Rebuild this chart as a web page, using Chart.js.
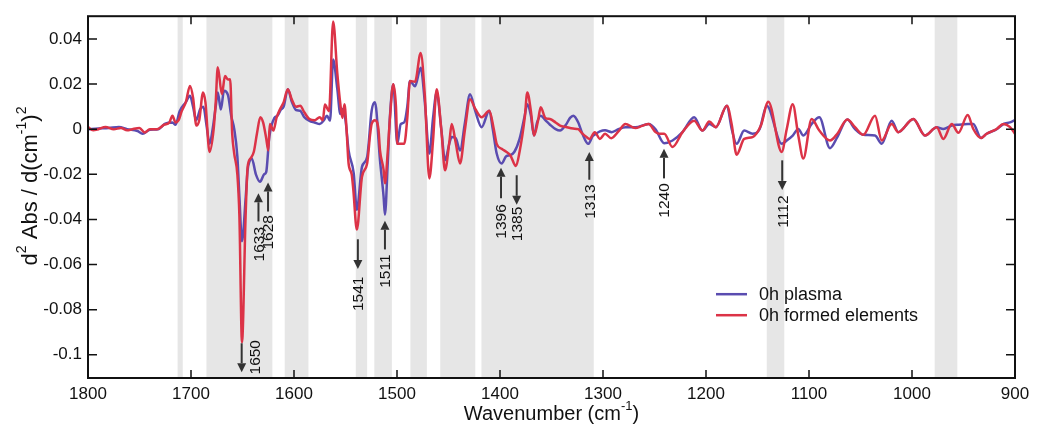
<!DOCTYPE html>
<html>
<head>
<meta charset="utf-8">
<script src="https://cdn.jsdelivr.net/npm/chart.js@4.4.0/dist/chart.umd.min.js"></script>
<style>
  html, body { margin: 0; padding: 0; background: #fff; }
  #wrap { width: 1043px; height: 427px; }
</style>
</head>
<body>
<div id="wrap"><canvas id="chart" width="1043" height="427"></canvas></div>
<script>
// wavenumber (cm-1) / second derivative values
const plasmaWn = [
  1800, 1790, 1780, 1770, 1762, 1752, 1747, 1740, 1732, 1725,
  1718, 1715, 1711, 1705, 1701, 1698, 1695, 1691, 1688, 1685,
  1682, 1679, 1676, 1674, 1671, 1668, 1664, 1661, 1658, 1655,
  1653, 1650.5, 1647, 1645, 1643, 1641, 1637, 1633, 1629, 1627,
  1624, 1619, 1616, 1613, 1610, 1606, 1602, 1598, 1594, 1590,
  1585, 1580, 1575, 1571, 1568, 1565, 1562, 1558, 1555, 1553,
  1550, 1547, 1542, 1539, 1534, 1529, 1524.6, 1521.4, 1516.5, 1513,
  1511.7, 1509, 1506.8, 1503.6, 1499.7, 1496.4, 1493, 1490, 1487.4, 1482.5,
  1477, 1473, 1468.6, 1465, 1461.5, 1457, 1453.4, 1449, 1447, 1443,
  1438.8, 1434, 1429.1, 1424, 1417.8, 1410.4, 1407, 1403.2, 1398.4, 1394,
  1390, 1386, 1381, 1376, 1373.5, 1370, 1367, 1364, 1360.5, 1356,
  1351.5, 1346, 1341.7, 1336, 1332, 1328.8, 1324, 1320, 1314.3, 1310,
  1307.8, 1303, 1298, 1291.5, 1285, 1278.3, 1268.6, 1255.7, 1249, 1240.6,
  1232.5, 1222.8, 1211.5, 1203.4, 1196.9, 1190.4, 1179.7, 1175, 1170.3, 1162.9,
  1154.8, 1148, 1141, 1126.5, 1121.6, 1115.8, 1110.4, 1105.5, 1097.4, 1090,
  1079.6, 1072.5, 1062.8, 1055.3, 1047.3, 1035.9, 1029.4, 1019.7, 1013.3, 998.7,
  987.4, 976, 969.6, 961.4, 955, 945.9, 940.5, 933, 927.5, 917.8,
  911.3, 904.8, 900
];
const plasmaVal = [
  0.000, 0.0003, 0.0005, 0.001, 0.000, -0.0008, -0.002, -0.0003, 0.000, 0.0025,
  0.003, 0.002, 0.008, 0.012, 0.0148, 0.010, 0.004, 0.009, 0.010, 0.002,
  -0.0065, 0.000, 0.010, 0.0163, 0.0087, 0.017, 0.015, 0.006, 0.000, -0.012,
  -0.030, -0.0497, -0.031, -0.018, -0.014, -0.013, -0.020, -0.0233, -0.020, -0.019,
  -0.0035, 0.005, 0.006, 0.0085, 0.010, 0.0177, 0.012, 0.0085, 0.0082, 0.0053,
  0.0037, 0.003, 0.0023, 0.004, 0.006, 0.0038, 0.0309, 0.018, 0.0067, 0.009,
  0.004, -0.0094, -0.0196, -0.0357, -0.0167, -0.0123, 0.0082, 0.0119, -0.0138, -0.030,
  -0.0379, -0.015, 0.006, 0.0199, -0.0065, 0.0023, 0.003, 0.010, 0.0214, 0.019,
  0.0273, 0.012, -0.0108, 0.005, 0.0163, 0.000, -0.0138, -0.006, -0.0035, -0.004,
  -0.0094, 0.003, 0.0155, 0.008, 0.0009, 0.0082, 0.000, -0.0108, -0.0152, -0.012,
  -0.0115, -0.010, -0.0043, 0.006, 0.0111, 0.006, -0.0028, 0.003, 0.006, 0.004,
  0.002, 0.000, -0.0006, 0.002, 0.005, 0.006, 0.003, -0.002, -0.0065, -0.003,
  -0.0023, -0.001, -0.0005, -0.0013, 0.000, 0.0009, 0.0009, 0.0023, 0.000, -0.0062,
  -0.005, -0.0013, 0.0053, -0.0006, 0.0023, 0.0009, 0.0104, 0.000, -0.0065, -0.0006,
  -0.002, 0.000, 0.0104, -0.0065, -0.005, -0.0028, 0.0001, -0.0028, 0.0023, 0.0053,
  -0.0084, -0.0035, 0.0043, 0.000, -0.0025, -0.0028, -0.0065, 0.0038, -0.0013, 0.0045,
  -0.0028, 0.0009, 0.0001, 0.0016, 0.002, 0.0023, 0.0023, -0.0039, -0.002, 0.000,
  0.0023, 0.003, 0.004
];
const formedWn = [
  1800, 1795, 1790, 1783, 1775, 1768, 1762, 1757, 1750, 1745,
  1740, 1733, 1726, 1721, 1718, 1715, 1712, 1709, 1705, 1701,
  1698, 1694.8, 1692, 1688.3, 1686, 1682, 1678, 1676, 1674, 1670,
  1667, 1664, 1662, 1660, 1658, 1655, 1653, 1650.5, 1647, 1645,
  1642, 1639, 1636, 1632.7, 1630, 1627, 1625, 1623.5, 1620, 1617,
  1613, 1610, 1606, 1602, 1598, 1594, 1590, 1585, 1580, 1575,
  1572, 1570, 1566, 1562, 1558, 1555, 1553, 1551, 1549, 1547,
  1544, 1542.4, 1539, 1534, 1529, 1526, 1524.6, 1521.4, 1518, 1516.5,
  1513, 1511.7, 1509, 1506.8, 1503.6, 1501, 1499.7, 1496.4, 1493, 1490,
  1487.4, 1482.5, 1477, 1473, 1468.6, 1465, 1461.5, 1457, 1453.4, 1449,
  1446.9, 1443, 1438.8, 1434, 1429.1, 1424, 1417.8, 1410.4, 1406, 1403.2,
  1398.4, 1394, 1390, 1384.5, 1381, 1376, 1373.5, 1370, 1367, 1363,
  1360.5, 1356, 1351.5, 1346, 1341.7, 1336, 1329, 1324, 1320, 1316,
  1313, 1308, 1303, 1298, 1292, 1285, 1278.3, 1268.6, 1262, 1255.7,
  1249, 1245, 1240.6, 1232.5, 1222.8, 1211.5, 1203.4, 1196.9, 1190.4, 1179.7,
  1175, 1170.3, 1162.9, 1154.8, 1146.7, 1139.5, 1126.5, 1121.6, 1115.8, 1110.4,
  1105.5, 1097.4, 1090, 1079.6, 1072.5, 1062.8, 1055.3, 1047.3, 1035.9, 1029.4,
  1019.7, 1013.3, 998.7, 987.4, 976, 969.6, 961.4, 955, 945.9, 940.5,
  933, 927.5, 917.8, 911.3, 904.8, 900
];
const formedVal = [
  0.001, -0.0005, 0.000, 0.001, 0.000, 0.0005, -0.0005, 0.000, 0.0005, -0.0015,
  0.000, 0.000, 0.002, 0.003, 0.006, 0.003, 0.004, 0.008, 0.012, 0.0192,
  0.014, 0.0016, 0.004, 0.0163, 0.012, -0.0101, 0.000, 0.012, 0.0275, 0.0155,
  0.0236, 0.022, 0.0221, -0.002, -0.0109, -0.020, -0.0387, -0.0944, -0.0387, -0.0167,
  -0.0128, -0.010, -0.002, 0.0053, 0.003, -0.004, -0.0094, 0.0023, -0.0006, 0.005,
  0.0094, 0.012, 0.0177, 0.013, 0.010, 0.0104, 0.0075, 0.0045, 0.004, 0.0053,
  0.004, 0.0109, 0.008, 0.0478, 0.025, 0.0111, 0.005, 0.0111, 0.000, -0.0152,
  -0.020, -0.0269, -0.0445, -0.0211, -0.0152, -0.002, 0.0023, 0.004, 0.000, -0.0094,
  -0.018, -0.024, -0.010, 0.0053, 0.0199, 0.010, -0.0065, -0.0065, -0.0065, 0.005,
  0.0214, 0.021, 0.0338, 0.015, -0.0218, -0.005, 0.0177, 0.000, -0.0182, -0.005,
  0.0023, -0.006, -0.0152, 0.000, 0.0133, 0.009, 0.0053, 0.0082, 0.000, -0.0065,
  -0.0087, -0.010, -0.0115, -0.0163, -0.010, 0.005, 0.0163, 0.008, -0.0028, 0.004,
  0.0097, 0.005, 0.0045, 0.003, 0.0016, 0.001, 0.0003, 0.000, -0.002, -0.0035,
  -0.0043, -0.0013, -0.0043, -0.002, -0.004, -0.001, 0.0023, 0.0005, 0.0015, 0.0023,
  -0.0013, -0.002, -0.002, -0.0079, -0.0013, 0.0038, -0.0006, 0.0034, 0.0009, 0.0104,
  0.002, -0.0113, -0.0043, -0.0035, 0.0016, 0.0122, -0.0101, 0.0001, 0.0111, -0.0028,
  -0.013, 0.0045, -0.0006, -0.005, -0.002, 0.0043, 0.0009, -0.0025, 0.006, -0.005,
  0.0023, -0.0013, 0.0045, -0.0028, 0.0009, -0.0043, 0.0023, -0.0016, 0.0063, 0.0001,
  -0.0039, -0.002, 0.0001, 0.0023, 0.0009, -0.002
];

// shaded regions (cm-1)
const bandStart = [1713, 1685, 1609, 1540, 1522, 1487, 1458, 1418, 1141, 978];
const bandEnd   = [1708, 1621, 1586, 1529, 1505, 1471, 1424, 1309, 1124, 956];

// marked peaks: label, arrow x, arrow tail/tip and label centre (data units)
const peakLabels = ['1650', '1633', '1628', '1541', '1511', '1396', '1385', '1313', '1240', '1112'];
const peakWn     = [1650.8, 1634.5, 1625.2, 1538, 1511.7, 1399, 1383.8, 1313.3, 1240.8, 1126];
const peakTail   = [-0.0949, -0.0409, -0.0365, -0.0488, -0.0533, -0.0306, -0.0204, -0.0224, -0.0218, -0.0138];
const peakTip    = [-0.1077, -0.0284, -0.0236, -0.062, -0.0406, -0.0171, -0.0335, -0.0101, -0.0087, -0.0269];
const peakTextY  = [-0.1011, -0.051, -0.0457, -0.073, -0.0629, -0.0409, -0.042, -0.0321, -0.0316, -0.0365];

const xTicks = [1800, 1700, 1600, 1500, 1400, 1300, 1200, 1100, 1000, 900];
const yTicks = [0.04, 0.02, 0, -0.02, -0.04, -0.06, -0.08, -0.1];
const yTickLabels = ['0.04', '0.02', '0', '-0.02', '-0.04', '-0.06', '-0.08', '-0.1'];

const seriesNames = ['0h plasma', '0h formed elements'];
const BLUE = '#5a4cb0';
const RED = '#dc3347';
const FONT = '"Liberation Sans", Arial, sans-serif';

const toPoints = (xs, ys) => xs.map((x, i) => ({ x, y: ys[i] }));

// rich text with superscripts, centred on (cx, cy)
const drawRich = (ctx, parts, cx, cy, size) => {
  const supSize = Math.round(size * 0.65);
  let w = 0;
  parts.forEach(p => {
    ctx.font = `${p.sup ? supSize : size}px ${FONT}`;
    w += ctx.measureText(p.t).width;
  });
  let x = cx - w / 2;
  ctx.textBaseline = 'middle';
  ctx.textAlign = 'left';
  parts.forEach(p => {
    ctx.font = `${p.sup ? supSize : size}px ${FONT}`;
    ctx.fillText(p.t, x, p.sup ? cy - size * 0.38 : cy);
    x += ctx.measureText(p.t).width;
  });
};

const decor = {
  id: 'decor',
  beforeDatasetsDraw(chart) {
    const { ctx, chartArea: a, scales: { x } } = chart;
    ctx.save();
    ctx.fillStyle = '#e6e6e6';
    bandStart.forEach((s, i) => {
      const x0 = x.getPixelForValue(s);
      const x1 = x.getPixelForValue(bandEnd[i]);
      ctx.fillRect(Math.min(x0, x1), a.top, Math.abs(x1 - x0), a.bottom - a.top);
    });
    ctx.restore();
  },
  afterDatasetsDraw(chart) {
    const { ctx, chartArea: a, scales: { x, y } } = chart;
    ctx.save();

    // arrows + rotated peak labels
    ctx.strokeStyle = '#333';
    ctx.fillStyle = '#333';
    ctx.lineWidth = 2;
    peakLabels.forEach((lab, i) => {
      const px = x.getPixelForValue(peakWn[i]);
      const yTail = y.getPixelForValue(peakTail[i]);
      const yTip = y.getPixelForValue(peakTip[i]);
      const dir = yTip > yTail ? 1 : -1;
      const head = 9;
      ctx.beginPath();
      ctx.moveTo(px, yTail);
      ctx.lineTo(px, yTip - dir * head);
      ctx.stroke();
      ctx.beginPath();
      ctx.moveTo(px, yTip);
      ctx.lineTo(px - 4.5, yTip - dir * head);
      ctx.lineTo(px + 4.5, yTip - dir * head);
      ctx.closePath();
      ctx.fill();

      const ty = y.getPixelForValue(peakTextY[i]);
      const tx = i === 0 ? px + 13 : px;
      ctx.save();
      ctx.translate(tx, ty);
      ctx.rotate(-Math.PI / 2);
      ctx.fillStyle = '#111';
      ctx.font = `15.5px ${FONT}`;
      ctx.textAlign = 'center';
      ctx.textBaseline = 'middle';
      ctx.fillText(lab, 0, 1);
      ctx.restore();
    });

    // frame
    ctx.strokeStyle = '#111';
    ctx.lineWidth = 2;
    ctx.strokeRect(a.left, a.top, a.right - a.left, a.bottom - a.top);

    // inward ticks on all four sides
    ctx.lineWidth = 1.5;
    ctx.beginPath();
    xTicks.forEach(v => {
      const px = x.getPixelForValue(v);
      ctx.moveTo(px, a.bottom); ctx.lineTo(px, a.bottom - 8);
      ctx.moveTo(px, a.top); ctx.lineTo(px, a.top + 8);
    });
    yTicks.forEach(v => {
      const py = y.getPixelForValue(v);
      ctx.moveTo(a.left, py); ctx.lineTo(a.left + 9, py);
      ctx.moveTo(a.right, py); ctx.lineTo(a.right - 9, py);
    });
    ctx.stroke();

    // legend
    const lx = a.left + 628;
    const ly = a.top + 278;
    [BLUE, RED].forEach((c, i) => {
      const yy = ly + i * 21;
      ctx.strokeStyle = c;
      ctx.lineWidth = 2.5;
      ctx.beginPath();
      ctx.moveTo(lx, yy); ctx.lineTo(lx + 31, yy);
      ctx.stroke();
      ctx.fillStyle = '#111';
      ctx.font = `18px ${FONT}`;
      ctx.textAlign = 'left';
      ctx.textBaseline = 'middle';
      ctx.fillText(seriesNames[i], lx + 43, yy + 1);
    });

    // axis titles
    ctx.fillStyle = '#111';
    drawRich(ctx, [{ t: 'Wavenumber (cm' }, { t: '-1', sup: true }, { t: ')' }],
      (a.left + a.right) / 2, 414, 20);
    ctx.save();
    ctx.translate(31, 186);
    ctx.rotate(-Math.PI / 2);
    drawRich(ctx, [{ t: 'd' }, { t: '2', sup: true }, { t: ' Abs / d(cm' }, { t: '-1', sup: true },
      { t: ')' }, { t: '2', sup: true }], 0, 0, 22);
    ctx.restore();

    ctx.restore();
  }
};

new Chart(document.getElementById('chart'), {
  type: 'line',
  data: {
    datasets: [
      {
        label: seriesNames[0],
        data: toPoints(plasmaWn, plasmaVal),
        borderColor: BLUE,
        borderWidth: 2.5,
        order: 1
      },
      {
        label: seriesNames[1],
        data: toPoints(formedWn, formedVal),
        borderColor: RED,
        borderWidth: 2.5,
        order: 0
      }
    ]
  },
  options: {
    responsive: false,
    animation: false,
    parsing: false,
    layout: { padding: { left: 0, right: 28, top: 13, bottom: 0 } },
    elements: {
      point: { radius: 0 },
      line: { cubicInterpolationMode: 'monotone', fill: false }
    },
    plugins: { legend: { display: false }, tooltip: { enabled: false } },
    scales: {
      x: {
        type: 'linear',
        reverse: true,
        min: 900,
        max: 1800,
        afterFit: s => { s.height = 49; },
        afterBuildTicks: s => { s.ticks = xTicks.map(v => ({ value: v })); },
        grid: { display: false, drawTicks: false },
        border: { display: false },
        ticks: {
          padding: 6,
          color: '#111',
          font: { family: FONT, size: 17 },
          maxRotation: 0,
          autoSkip: false,
          callback: v => String(v)
        }
      },
      y: {
        min: -0.1103,
        max: 0.0501,
        afterFit: s => { s.width = 88; },
        afterBuildTicks: s => { s.ticks = yTicks.map(v => ({ value: v })); },
        grid: { display: false, drawTicks: false },
        border: { display: false },
        ticks: {
          padding: 6,
          color: '#111',
          font: { family: FONT, size: 17 },
          autoSkip: false,
          callback: (v, i) => yTickLabels[i]
        }
      }
    }
  },
  plugins: [decor]
});
</script>
</body>
</html>
